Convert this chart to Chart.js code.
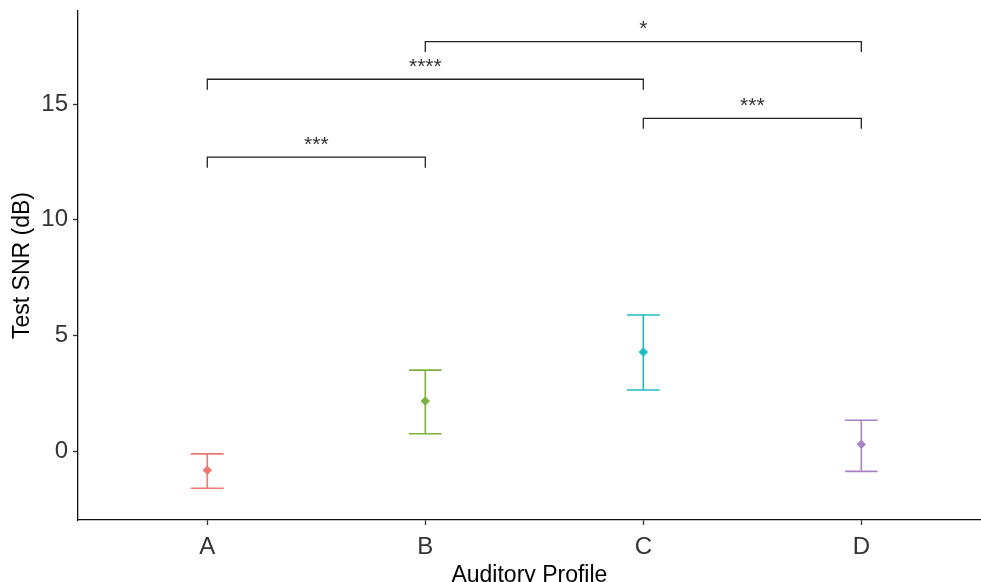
<!DOCTYPE html>
<html>
<head>
<meta charset="utf-8">
<script src="https://cdn.jsdelivr.net/npm/chart.js@4.4.1/dist/chart.umd.min.js"></script>
<style>
html, body { margin: 0; padding: 0; overflow: hidden; background: #fff; }
#wrap { position: absolute; left: 0; top: 0; width: 986px; height: 582px; }
</style>
</head>
<body>
<div id="wrap"><canvas id="chSnr" width="986" height="582"></canvas></div>
<script>
/* test SNR by auditory profile, mean with error bars + significance brackets */

// groups and values
var profiles = ['A', 'B', 'C', 'D'];
var snrMean  = [-0.83, 2.16, 4.28, 0.29];
var snrLow   = [-1.61, 0.75, 2.64, -0.88];
var snrHigh  = [-0.12, 3.50, 5.88, 1.33];
var yTicks   = [0, 5, 10, 15];

// pairwise comparisons (index into profiles)
var cmpFrom   = [0, 2, 0, 1];
var cmpTo     = [1, 3, 2, 3];
var cmpY      = [12.7, 14.38, 16.07, 17.7];
var cmpLabels = ['***', '***', '****', '*'];

// colors
var colors = ['#F0776F', '#7DB143', '#1CBEC4', '#A880C6'];
var font = 'Liberation Sans, Arial, sans-serif';

var errorBars = {
  id: 'errorBars',
  beforeDatasetsDraw: function(chart) {
    var ctx = chart.ctx, xs = chart.scales.x, ys = chart.scales.y;
    ctx.save();
    ctx.lineWidth = 1.6;
    profiles.forEach(function(p, i) {
      var x = xs.getPixelForValue(i + 1);
      var capL = xs.getPixelForValue(i + 1 - 0.075);
      var capR = xs.getPixelForValue(i + 1 + 0.075);
      var lo = ys.getPixelForValue(snrLow[i]);
      var hi = ys.getPixelForValue(snrHigh[i]);
      ctx.strokeStyle = colors[i];
      ctx.beginPath();
      ctx.moveTo(x, lo); ctx.lineTo(x, hi);
      ctx.moveTo(capL, lo); ctx.lineTo(capR, lo);
      ctx.moveTo(capL, hi); ctx.lineTo(capR, hi);
      ctx.stroke();
    });
    ctx.restore();
  }
};

var brackets = {
  id: 'brackets',
  afterDatasetsDraw: function(chart) {
    var ctx = chart.ctx, xs = chart.scales.x, ys = chart.scales.y;
    ctx.save();
    ctx.strokeStyle = '#222';
    ctx.lineWidth = 1.3;
    ctx.fillStyle = '#333';
    ctx.font = '21px ' + font;
    ctx.textAlign = 'center';
    ctx.textBaseline = 'alphabetic';
    cmpLabels.forEach(function(lbl, k) {
      var x1 = xs.getPixelForValue(cmpFrom[k] + 1);
      var x2 = xs.getPixelForValue(cmpTo[k] + 1);
      var y = ys.getPixelForValue(cmpY[k]);
      ctx.beginPath();
      ctx.moveTo(x1, y + 10.5); ctx.lineTo(x1, y);
      ctx.lineTo(x2, y); ctx.lineTo(x2, y + 10.5);
      ctx.stroke();
      ctx.fillText(lbl, (x1 + x2) / 2, y - 6.5);
    });
    ctx.restore();
  }
};

var chSnr = document.getElementById('chSnr');
if (chSnr) {
  new Chart(chSnr, {
    type: 'scatter',
    data: {
      datasets: [{
        data: snrMean.map(function(v, i) { return {x: i + 1, y: v}; }),
        backgroundColor: colors,
        borderColor: colors,
        borderWidth: 1,
        pointStyle: 'rectRot',
        pointRadius: 4.2,
        pointHoverRadius: 4.2
      }]
    },
    options: {
      responsive: false,
      animation: false,
      devicePixelRatio: 1,
      layout: {padding: {top: 11, left: 0, right: 0, bottom: 0}},
      plugins: {legend: {display: false}, tooltip: {enabled: false}},
      scales: {
        x: {
          type: 'linear', min: 0.407, max: 4.548,
          afterBuildTicks: function(s) { s.ticks = profiles.map(function(p, i) { return {value: i + 1}; }); },
          afterFit: function(s) { s.height = 62; s.paddingLeft = 0; s.paddingRight = 0; },
          grid: {drawOnChartArea: false, drawTicks: true, tickLength: 5, color: '#333', tickWidth: 1.3},
          border: {display: true, color: '#111', width: 1.3},
          ticks: {
            padding: 8, color: '#333', font: {family: font, size: 24},
            callback: function(v) { return profiles[v - 1]; }
          },
          title: {display: true, text: 'Auditory Profile', color: '#000', font: {family: font, size: 23}, padding: {top: 0, bottom: -7}}
        },
        y: {
          min: -2.98, max: 19.02,
          afterBuildTicks: function(s) { s.ticks = yTicks.map(function(v) { return {value: v}; }); },
          afterFit: function(s) { s.width = 78; s.paddingTop = 0; s.paddingBottom = 0; },
          grid: {drawOnChartArea: false, drawTicks: true, tickLength: 5, color: '#333', tickWidth: 1.3},
          border: {display: true, color: '#111', width: 1.3},
          ticks: {padding: 5, color: '#333', font: {family: font, size: 24}},
          title: {display: true, text: 'Test SNR (dB)', color: '#000', font: {family: font, size: 23}, padding: {top: 9, bottom: 0}}
        }
      }
    },
    plugins: [errorBars, brackets]
  });
}
</script>
</body>
</html>
